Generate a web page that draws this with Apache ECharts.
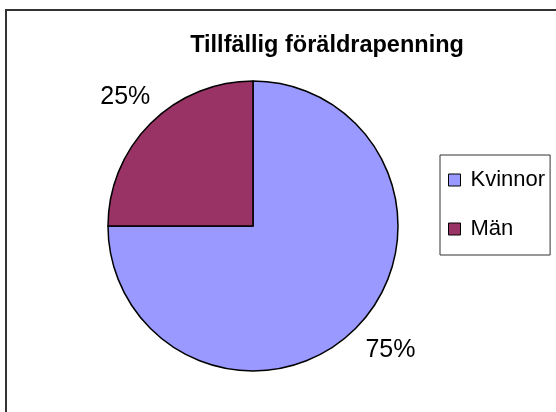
<!DOCTYPE html>
<html>
<head>
<meta charset="utf-8">
<script src="https://cdn.jsdelivr.net/npm/echarts@6/dist/echarts.min.js"></script>
<style>
  html, body { margin: 0; padding: 0; background: #fff; }
  #chart { width: 556px; height: 412px; }
</style>
</head>
<body>
<div id="chart"></div>
<script>
// --- Data ---
const chartTitle = 'Tillfällig föräldrapenning';
const categories = ['Kvinnor', 'Män'];
const shares = [75, 25];

// --- Style ---
const sliceColors = ['#9999ff', '#993366'];
// [length, length2] of the (hidden) label line, per slice
const labelLine = [[31, -17], [37, -31]];

const FONT = '"Liberation Sans", Arial, sans-serif';

const chart = echarts.init(document.getElementById('chart'), null, { renderer: 'canvas' });

chart.setOption({
    animation: false,
    backgroundColor: '#fff',
    title: {
        text: chartTitle,
        left: 327, top: 34, padding: 0,
        textAlign: 'center',
        textStyle: { fontFamily: FONT, fontSize: 23.5, fontWeight: 'bold', color: '#000' },
    },
    legend: {
        orient: 'vertical',
        left: 440, top: 155,
        padding: [14, 5, 15, 8],
        itemGap: 27,
        itemWidth: 12, itemHeight: 12,
        icon: 'rect',
        borderColor: '#333', borderWidth: 1,
        itemStyle: { borderColor: '#000', borderWidth: 1 },
        textStyle: { fontFamily: FONT, fontSize: 22, color: '#000', padding: [0, 0, 0, 5] },
        data: categories,
    },
    graphic: [{
        // outer chart-area frame (only top and left edges are in view)
        type: 'rect', silent: true,
        shape: { x: 6, y: 10, width: 620, height: 460 },
        style: { fill: null, stroke: '#333', lineWidth: 2 },
    }],
    series: [{
        type: 'pie',
        center: [253, 226],
        radius: 145,
        startAngle: 90,
        clockwise: true,
        avoidLabelOverlap: false,
        percentPrecision: 0,
        itemStyle: { borderColor: '#000', borderWidth: 1.5 },
        label: {
            show: true, position: 'outside',
            formatter: '{d}%',
            fontFamily: FONT, fontSize: 25, color: '#000',
        },
        emphasis: { disabled: true },
        data: categories.map((name, i) => ({
            name, value: shares[i],
            itemStyle: { color: sliceColors[i] },
            labelLine: { show: false, length: labelLine[i][0], length2: labelLine[i][1] },
        })),
    }],
});
</script>
</body>
</html>
